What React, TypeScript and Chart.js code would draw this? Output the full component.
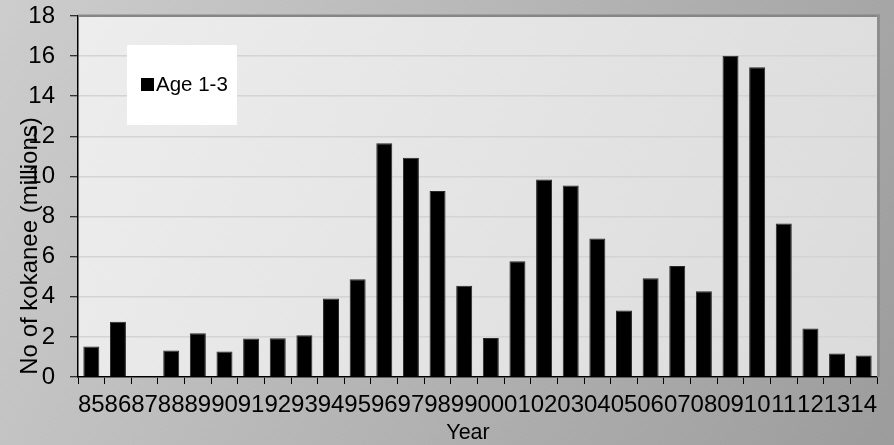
import React, { useEffect, useRef } from "react";
import { Chart, registerables } from "chart.js";

Chart.register(...registerables);

const years = ["85", "86", "87", "88", "89", "90", "91", "92", "93", "94", "95", "96", "97", "98", "99", "00", "01", "02", "03", "04", "05", "06", "07", "08", "09", "10", "11", "12", "13", "14"];
const age13 = [1.52, 2.75, null, 1.32, 2.18, 1.27, 1.92, 1.93, 2.08, 3.92, 4.87, 11.65, 10.93, 9.27, 4.55, 1.95, 5.77, 9.85, 9.55, 6.9, 3.32, 4.92, 5.53, 4.27, 16.02, 15.45, 7.65, 2.42, 1.17, 1.07];
const seriesLabel = "Age 1-3";
const yTitle = "No of kokanee (millions)";
const xTitle = "Year";
const yMin = 0;
const yMax = 18;
const yStep = 2;

const FONT = "'Liberation Sans', Arial, sans-serif";

const decorPlugin = {
  id: "decor",
  beforeDraw(chart: any) {
    const { ctx, width, height, chartArea } = chart;
    ctx.save();
    const g = ctx.createLinearGradient(0, 0, width, height);
    g.addColorStop(0, "#cdcdcd");
    g.addColorStop(1, "#9c9c9c");
    ctx.fillStyle = g;
    ctx.fillRect(0, 0, width, height);
    const { left, top, right, bottom } = chartArea;
    const pg = ctx.createLinearGradient(left, top, right, bottom);
    pg.addColorStop(0, "#ededed");
    pg.addColorStop(1, "#dbdbdb");
    ctx.fillStyle = pg;
    ctx.fillRect(left, top, right - left, bottom - top);
    ctx.restore();
  },
  afterDraw(chart: any) {
    const { ctx, chartArea } = chart;
    const { left, top, right, bottom } = chartArea;
    ctx.save();
    // plot-area shadow edges
    ctx.fillStyle = "#868686";
    ctx.fillRect(left, top - 1.5, right - left + 3, 2.5);
    ctx.fillStyle = "#8e8e8e";
    ctx.fillRect(right, top - 1.5, 3, bottom - top + 1.5);

    // legend
    ctx.fillStyle = "#ffffff";
    ctx.fillRect(127, 45, 110, 80);
    ctx.fillStyle = "#000000";
    ctx.fillRect(141, 78, 13, 13);
    ctx.font = `20.5px ${FONT}`;
    ctx.textAlign = "left";
    ctx.textBaseline = "middle";
    ctx.fillText(chart.data.datasets[0].label, 156, 85);

    // axis titles
    ctx.font = `24px ${FONT}`;
    ctx.textAlign = "center";
    ctx.textBaseline = "middle";
    ctx.save();
    ctx.translate(30, 246);
    ctx.rotate(-Math.PI / 2);
    ctx.fillText(yTitle, 0, 0);
    ctx.restore();
    ctx.font = `21.5px ${FONT}`;
    ctx.fillText(xTitle, 468, 433);
    ctx.restore();
  },
};

export default function App() {
  const ref = useRef<HTMLCanvasElement | null>(null);

  useEffect(() => {
    document.body.style.margin = "0";
    const canvas = ref.current;
    if (!canvas) return;
    const chart = new Chart(canvas, {
      type: "bar",
      data: {
        labels: years,
        datasets: [
          {
            label: seriesLabel,
            data: age13,
            backgroundColor: "#000000",
            borderColor: "#2a2a2a",
            borderWidth: 1,
            categoryPercentage: 1,
            barPercentage: 0.6,
          },
        ],
      },
      options: {
        animation: false,
        responsive: false,
        devicePixelRatio: 1,
        layout: { padding: { left: 0, right: 17, top: 16, bottom: 0 } },
        plugins: {
          legend: { display: false },
          tooltip: { enabled: false },
          title: { display: false },
        },
        scales: {
          x: {
            afterFit(scale: any) {
              scale.height = 68;
              scale.paddingLeft = 0;
              scale.paddingRight = 0;
            },
            grid: {
              display: true,
              drawOnChartArea: false,
              drawTicks: true,
              offset: true,
              tickLength: 7,
              tickColor: "#000000",
              tickWidth: 1,
            },
            border: { color: "#000000", width: 1.5 },
            ticks: {
              autoSkip: false,
              maxRotation: 0,
              minRotation: 0,
              padding: 7,
              color: "#000000",
              font: { family: FONT, size: 24 },
            },
          },
          y: {
            min: yMin,
            max: yMax,
            afterFit(scale: any) {
              scale.width = 78;
              scale.paddingTop = 0;
              scale.paddingBottom = 0;
            },
            grid: {
              color: "#d4d4d4",
              lineWidth: 1.5,
              drawTicks: true,
              tickLength: 8,
              tickColor: "#000000",
              tickWidth: 1,
            },
            border: { color: "#000000", width: 1.5 },
            ticks: {
              stepSize: yStep,
              padding: 15,
              color: "#000000",
              font: { family: FONT, size: 24 },
            },
          },
        },
      },
      plugins: [decorPlugin],
    } as any);
    return () => chart.destroy();
  }, []);

  return (
    <div style={{ position: "absolute", left: 0, top: 0, width: 894, height: 445 }}>
      <canvas ref={ref} width={894} height={445} style={{ display: "block", width: 894, height: 445 }} />
    </div>
  );
}
